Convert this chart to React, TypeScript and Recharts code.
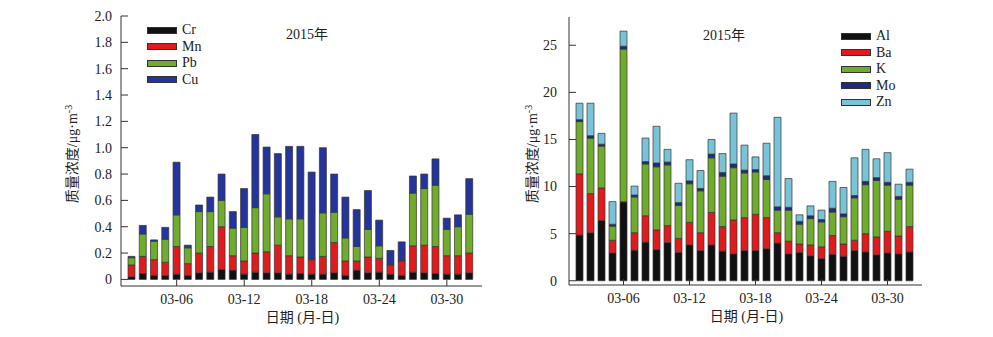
import { Bar, BarChart, Legend, XAxis, YAxis } from "recharts";

const dates = [
  "03-02", "03-03", "03-04", "03-05", "03-06", "03-07", "03-08", "03-09", "03-10", "03-11",
  "03-12", "03-13", "03-14", "03-15", "03-16", "03-17", "03-18", "03-19", "03-20", "03-21",
  "03-22", "03-23", "03-24", "03-25", "03-26", "03-27", "03-28", "03-29", "03-30", "03-31", "04-01",
];
const dateTicks = ["03-06", "03-12", "03-18", "03-24", "03-30"];

// left panel, μg/m3
const cr = [0.02, 0.045, 0.03, 0.03, 0.04, 0.03, 0.05, 0.055, 0.075, 0.07, 0.04, 0.055, 0.05, 0.05, 0.04, 0.045,
  0.04, 0.04, 0.05, 0.03, 0.07, 0.05, 0.055, 0.04, 0.03, 0.055, 0.05, 0.045, 0.04, 0.04, 0.05];
const mn = [0.09, 0.13, 0.12, 0.1, 0.21, 0.09, 0.15, 0.195, 0.325, 0.11, 0.1, 0.145, 0.16, 0.21, 0.14, 0.125,
  0.11, 0.135, 0.23, 0.11, 0.07, 0.12, 0.105, 0.07, 0.11, 0.2, 0.21, 0.205, 0.14, 0.14, 0.15];
const pb = [0.055, 0.17, 0.14, 0.175, 0.24, 0.12, 0.315, 0.265, 0.2, 0.21, 0.255, 0.345, 0.44, 0.215, 0.28, 0.29,
  0.005, 0.33, 0.23, 0.175, 0.11, 0.21, 0.095, 0.005, 0.005, 0.4, 0.43, 0.465, 0.2, 0.22, 0.295];
const cu = [0.01, 0.065, 0.01, 0.09, 0.4, 0.02, 0.05, 0.11, 0.2, 0.125, 0.295, 0.555, 0.355, 0.48, 0.55, 0.55,
  0.66, 0.495, 0.29, 0.31, 0.28, 0.295, 0.195, 0.105, 0.14, 0.13, 0.11, 0.2, 0.085, 0.09, 0.27];
const leftTicks = [0, 0.2, 0.4, 0.6, 0.8, 1.0, 1.2, 1.4, 1.6, 1.8, 2.0];

// right panel
const al = [4.85, 5.1, 6.4, 2.95, 8.35, 3.25, 4.1, 3.3, 4.05, 3.0, 3.8, 3.2, 3.8, 3.15, 2.85, 3.2,
  3.2, 3.4, 4.0, 2.85, 3.0, 2.65, 2.35, 2.8, 2.6, 3.2, 3.05, 2.75, 2.95, 2.85, 3.05];
const ba = [6.5, 4.15, 3.45, 1.35, 0.05, 1.85, 2.8, 2.1, 1.8, 1.5, 2.4, 1.9, 3.45, 2.6, 3.6, 3.5,
  3.85, 3.3, 1.1, 1.35, 0.9, 1.15, 1.25, 2.0, 1.3, 1.1, 1.95, 1.9, 2.3, 1.9, 2.7];
const k = [5.55, 5.9, 4.45, 1.5, 16.2, 3.8, 5.5, 6.7, 6.45, 3.5, 4.1, 4.45, 5.8, 5.35, 5.55, 4.75,
  4.5, 4.05, 2.4, 3.3, 2.1, 2.8, 2.65, 2.5, 2.9, 4.5, 5.2, 6.0, 4.9, 3.9, 4.4];
const mo = [0.2, 0.25, 0.2, 0.2, 0.3, 0.2, 0.25, 0.4, 0.3, 0.3, 0.3, 0.25, 0.4, 0.4, 0.4, 0.3,
  0.25, 0.4, 0.35, 0.3, 0.3, 0.3, 0.25, 0.4, 0.3, 0.25, 0.35, 0.3, 0.3, 0.3, 0.3];
const zn = [1.75, 3.45, 1.15, 2.4, 1.6, 0.95, 2.5, 3.9, 1.35, 2.05, 2.25, 1.9, 1.55, 2.0, 5.4, 2.65,
  1.35, 3.45, 9.5, 3.05, 0.7, 1.05, 1.0, 2.85, 2.8, 4.0, 3.4, 2.0, 3.15, 1.3, 1.4];
const rightTicks = [0, 5, 10, 15, 20, 25];

const leftRows = dates.map((d, i) => ({ date: d, Cr: cr[i], Mn: mn[i], Pb: pb[i], Cu: cu[i] }));
const rightRows = dates.map((d, i) => ({ date: d, Al: al[i], Ba: ba[i], K: k[i], Mo: mo[i], Zn: zn[i] }));

const FONT = "'Liberation Serif', 'Times New Roman', 'Noto Sans CJK SC', serif";
const INK = "#222";
const EDGE = "#333";

const leftSeries = ["Cr", "Mn", "Pb", "Cu"];
const rightSeries = ["Al", "Ba", "K", "Mo", "Zn"];
const leftColors: Record<string, string> = { Cr: "#111111", Mn: "#e01b1e", Pb: "#6fab2c", Cu: "#24349a" };
const rightColors: Record<string, string> = { Al: "#111111", Ba: "#e01b1e", K: "#6fab2c", Mo: "#1d2c80", Zn: "#78c3d7" };

function XTick(props: any) {
  const { x, y, payload } = props;
  return (
    <g>
      <line x1={x} y1={y} x2={x} y2={y - 6} stroke={EDGE} />
      <text x={x} y={y + 13} dy="0.35em" textAnchor="middle" fontSize={14} fill={INK} fontFamily={FONT}>
        {payload.value}
      </text>
    </g>
  );
}

const yTick = (gap: number, fmt: (v: number) => string) => (props: any) => {
  const { x, y, payload } = props;
  return (
    <g>
      <line x1={x} y1={y} x2={x + 7} y2={y} stroke={EDGE} />
      <text x={x - gap} y={y} dy="0.35em" textAnchor="end" fontSize={14} fill={INK} fontFamily={FONT}>
        {fmt(payload.value)}
      </text>
    </g>
  );
};

const yTitle = (cx: number) => (props: any) => {
  const vb = props.viewBox || { y: 16, height: 270 };
  const cy = vb.y + vb.height / 2 + 3;
  return (
    <text x={cx} y={cy} dy="0.35em" transform={`rotate(-90 ${cx} ${cy})`} textAnchor="middle"
      fontSize={14} fill={INK} fontFamily={FONT}>
      质量浓度/μg·m<tspan dy={-5} fontSize={10}>-3</tspan>
    </text>
  );
};

const xTitle = (props: any) => {
  const vb = props.viewBox || { x: 0, width: 0, y: 0 };
  return (
    <text x={vb.x + vb.width / 2 + 1} y={vb.y + 31} dy="0.35em" textAnchor="middle"
      fontSize={14} fill={INK} fontFamily={FONT}>
      日期 (月-日)
    </text>
  );
};

// legend rows in stacking order (bottom series first), not alphabetical
const legendBox = (order: string[], colors: Record<string, string>) => () => (
  <div style={{ fontFamily: FONT, fontSize: 14, color: INK }}>
    {order.map((s) => (
      <div key={s} style={{ display: "flex", alignItems: "center", height: 16.5 }}>
        <span style={{ display: "inline-block", width: 30, height: 7, background: colors[s], border: `1px solid ${EDGE}`, boxSizing: "border-box" }} />
        <span style={{ marginLeft: 5, lineHeight: "16px" }}>{s}</span>
      </div>
    ))}
  </div>
);

const title = (left: number, top: number) => (
  <div style={{ position: "absolute", left, top, fontFamily: FONT, fontSize: 14, color: INK, lineHeight: "16px" }}>2015年</div>
);

export default function App() {
  return (
    <div style={{ position: "absolute", left: 0, top: 0, width: 993, height: 337, background: "#fff" }}>
      <div style={{ position: "absolute", left: 0, top: 0 }}>
        <BarChart width={500} height={337} data={leftRows} margin={{ top: 16, right: 18, bottom: 0, left: 0 }} barSize={7}>
          <XAxis dataKey="date" ticks={dateTicks} interval={0} height={51} padding={{ left: 5, right: 7 }}
            tickSize={0} tickMargin={0} tickLine={false} tick={<XTick />} axisLine={{ stroke: EDGE }}
            label={{ content: xTitle }} />
          <XAxis xAxisId="top" dataKey="date" orientation="top" height={0} tick={false} tickLine={false} axisLine={{ stroke: EDGE }} />
          <YAxis type="number" domain={[-0.05, 2.0]} ticks={leftTicks} width={121} allowDataOverflow
            tickSize={0} tickMargin={0} tickLine={false} axisLine={{ stroke: EDGE }}
            tick={yTick(9, (v) => (v === 0 ? "0" : v.toFixed(1)))} label={{ content: yTitle(72) }} />
          <YAxis yAxisId="right" orientation="right" width={0} tick={false} tickLine={false} axisLine={{ stroke: EDGE }} />
          {leftSeries.map((s) => (
            <Bar key={s} dataKey={s} name={s} stackId="a" fill={leftColors[s]} stroke={EDGE} strokeWidth={0.7} isAnimationActive={false} />
          ))}
          <Legend layout="vertical" align="center" verticalAlign="middle" content={legendBox(leftSeries, leftColors)}
            wrapperStyle={{ left: 147, top: 22, width: "auto" }} />
        </BarChart>
        {title(286, 27)}
      </div>
      <div style={{ position: "absolute", left: 500, top: 0 }}>
        <BarChart width={493} height={337} data={rightRows} margin={{ top: 17, right: 71, bottom: 0, left: 0 }} barSize={7}>
          <XAxis dataKey="date" ticks={dateTicks} interval={0} height={52} padding={{ left: 5, right: 7 }}
            tickSize={0} tickMargin={0} tickLine={false} tick={<XTick />} axisLine={{ stroke: EDGE }}
            label={{ content: xTitle }} />
          <XAxis xAxisId="top" dataKey="date" orientation="top" height={0} tick={false} tickLine={false} axisLine={{ stroke: EDGE }} />
          <YAxis type="number" domain={[-0.45, 28]} ticks={rightTicks} width={69} allowDataOverflow
            tickSize={0} tickMargin={0} tickLine={false} axisLine={{ stroke: EDGE }}
            tick={yTick(12, (v) => String(v))} label={{ content: yTitle(32) }} />
          <YAxis yAxisId="right" orientation="right" width={0} tick={false} tickLine={false} axisLine={{ stroke: EDGE }} />
          {rightSeries.map((s) => (
            <Bar key={s} dataKey={s} name={s} stackId="a" fill={rightColors[s]} stroke={EDGE} strokeWidth={0.7} isAnimationActive={false} />
          ))}
          <Legend layout="vertical" align="center" verticalAlign="middle" content={legendBox(rightSeries, rightColors)}
            wrapperStyle={{ left: 341, top: 28, width: "auto" }} />
        </BarChart>
        {title(203, 28)}
      </div>
    </div>
  );
}
